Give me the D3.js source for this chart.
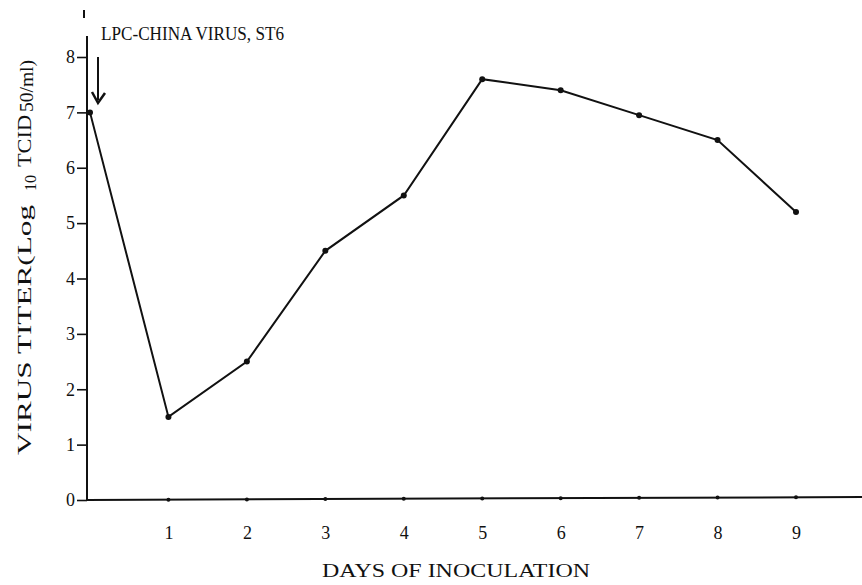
<!DOCTYPE html>
<html>
<head>
<meta charset="utf-8">
<script src="https://cdn.jsdelivr.net/npm/d3@7/dist/d3.min.js"></script>
<style>
  html, body { margin: 0; padding: 0; background: #fff; }
  svg { display: block; }
  text { font-family: "Liberation Serif", "DejaVu Serif", serif; fill: #111; }
</style>
</head>
<body>
<svg id="chart" width="862" height="585"></svg>
<script>
// Data
const days = [0, 1, 2, 3, 4, 5, 6, 7, 8, 9];
const titer = [7.0, 1.5, 2.5, 4.5, 5.5, 7.6, 7.4, 6.95, 6.5, 5.2];
const xTickValues = [1, 2, 3, 4, 5, 6, 7, 8, 9];
const yTickValues = [0, 1, 2, 3, 4, 5, 6, 7, 8];
const annotation = "LPC-CHINA VIRUS, ST6";
const xTitle = "DAYS OF INOCULATION";

const svg = d3.select("#chart");
const x = d3.scaleLinear().domain([0, 9]).range([90, 796]);
const y = d3.scaleLinear().domain([0, 8]).range([500, 57]);
const x0 = 87;

// Y axis
const yAxis = d3.axisLeft(y).tickValues(yTickValues).tickSize(10).tickPadding(2)
  .tickFormat(d3.format("d"));
const gy = svg.append("g").attr("transform", `translate(${x0},0)`).call(yAxis);
gy.select(".domain").remove();
gy.selectAll(".tick line").attr("stroke", "#111").attr("stroke-width", 1.6);
gy.selectAll(".tick text").attr("font-size", 18).attr("font-family", "Liberation Serif, serif").attr("fill", "#111");
svg.append("line").attr("x1", x0).attr("x2", x0).attr("y1", 36).attr("y2", y(0))
  .attr("stroke", "#111").attr("stroke-width", 2);
// small mark at top
svg.append("line").attr("x1", 84).attr("x2", 84).attr("y1", 10).attr("y2", 18)
  .attr("stroke", "#111").attr("stroke-width", 2);

// X axis
const xAxis = d3.axisBottom(x).tickValues(xTickValues).tickSize(0).tickPadding(26)
  .tickFormat(d3.format("d"));
const gx = svg.append("g").attr("transform", `translate(0,${y(0)})`).call(xAxis);
gx.select(".domain").remove();
gx.selectAll(".tick text").attr("font-size", 18).attr("font-family", "Liberation Serif, serif").attr("fill", "#111");
svg.append("line").attr("x1", x0).attr("x2", 862).attr("y1", y(0)).attr("y2", y(0) - 3)
  .attr("stroke", "#111").attr("stroke-width", 2);
svg.selectAll("circle.xt").data(xTickValues).enter().append("circle").attr("class", "xt")
  .attr("cx", d => x(d)).attr("cy", d => y(0) - 3 * (x(d) - x0) / (862 - x0)).attr("r", 2).attr("fill", "#111");

// Line
const line = d3.line().x((d, i) => x(days[i])).y(d => y(d));
svg.append("path").datum(titer).attr("d", line).attr("fill", "none")
  .attr("stroke", "#111").attr("stroke-width", 2);
svg.selectAll("circle.pt").data(titer).enter().append("circle").attr("class", "pt")
  .attr("cx", (d, i) => x(days[i])).attr("cy", d => y(d)).attr("r", 3).attr("fill", "#111");

// Annotation + arrow
svg.append("text").attr("x", 101).attr("y", 40).attr("font-size", 19)
  .attr("textLength", 183).attr("lengthAdjust", "spacingAndGlyphs").text(annotation);
svg.append("line").attr("x1", 98).attr("x2", 98).attr("y1", 57).attr("y2", 100)
  .attr("stroke", "#111").attr("stroke-width", 2);
svg.append("path").attr("d", "M92,92 L98,103 L105,93").attr("fill", "none")
  .attr("stroke", "#111").attr("stroke-width", 2.5);

// X title
svg.append("text").attr("x", 322).attr("y", 577).attr("font-size", 19)
  .attr("textLength", 268).attr("lengthAdjust", "spacingAndGlyphs").text(xTitle);

// Y title
const yt = svg.append("g").attr("transform", "translate(31,455) rotate(-90)");
yt.append("text").attr("x", 0).attr("y", 0).attr("font-size", 19)
  .attr("textLength", 250).attr("lengthAdjust", "spacingAndGlyphs").text("VIRUS TITER(Log");
yt.append("text").attr("x", 264).attr("y", 5).attr("font-size", 17)
  .attr("textLength", 16).attr("lengthAdjust", "spacingAndGlyphs").text("10");
yt.append("text").attr("x", 288).attr("y", 0).attr("font-size", 19)
  .attr("textLength", 52).attr("lengthAdjust", "spacingAndGlyphs").text("TCID");
yt.append("text").attr("x", 343).attr("y", 2).attr("font-size", 18)
  .attr("textLength", 52).attr("lengthAdjust", "spacingAndGlyphs").text("50/ml)");
</script>
</body>
</html>
